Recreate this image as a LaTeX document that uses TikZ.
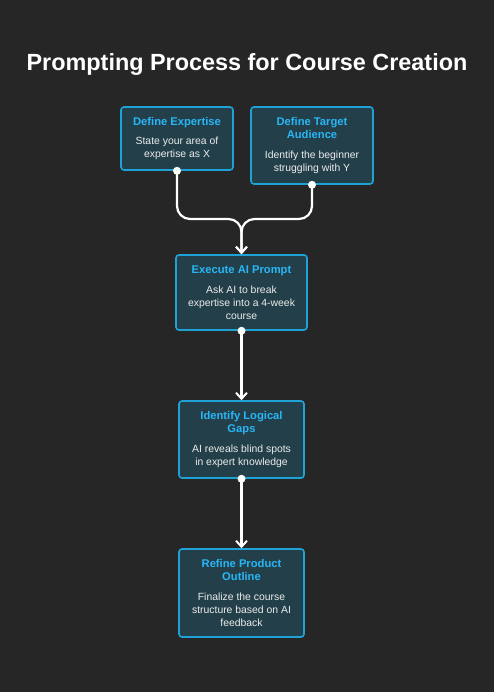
\documentclass[tikz,border=0pt]{standalone}
\usepackage{fontspec}
\setmainfont{Liberation Sans}
\usetikzlibrary{arrows.meta}
\definecolor{bg}{HTML}{262626}
\definecolor{boxfill}{HTML}{23404A}
\definecolor{boxline}{HTML}{1FA3D6}
\definecolor{ttl}{HTML}{29B6F6}
\definecolor{bodytxt}{HTML}{ECECEC}
\tikzset{
  stepbox/.style={draw=boxline, line width=1.6pt, fill=boxfill, rounded corners=3pt,
    align=center, inner sep=2pt, font=\fontsize{10.4}{13}\selectfont, text=bodytxt},
  conn/.style={draw=white, line width=2.2pt, rounded corners=13pt},
  arr/.style={conn, -{Straight Barb[length=6pt,width=11pt,line width=2pt]}},
  dotstart/.style={fill=white, circle, inner sep=0pt, minimum size=8pt},
}
\newcommand{\btitle}[1]{{\color{ttl}\bfseries\fontsize{11.2}{14}\selectfont #1}}
\begin{document}
\begin{tikzpicture}[x=1pt,y=-1pt]
\useasboundingbox (0,0) rectangle (494,692);
\fill[bg] (0,0) rectangle (494,692);
\node[text=white, font=\bfseries\fontsize{23.4}{26}\selectfont] (title) at (247,65) {Prompting Process for Course Creation};

\node[stepbox, minimum width=112pt, minimum height=63pt] (de) at (177,138.5)
  {\btitle{Define Expertise}\\[6.5pt]State your area of\\expertise as X};
\node[stepbox, minimum width=122pt, minimum height=77pt] (dt) at (312,145.5)
  {\btitle{Define Target}\\\btitle{Audience}\\[6.5pt]Identify the beginner\\struggling with Y};
\node[stepbox, minimum width=131pt, minimum height=75pt] (ex) at (241.5,292.5)
  {\btitle{Execute AI Prompt}\\[6.5pt]Ask AI to break\\expertise into a 4-week\\course};
\node[stepbox, minimum width=125pt, minimum height=77pt] (ig) at (241.5,439.5)
  {\btitle{Identify Logical}\\\btitle{Gaps}\\[6.5pt]AI reveals blind spots\\in expert knowledge};
\node[stepbox, minimum width=125pt, minimum height=88pt] (rp) at (241.5,593)
  {\btitle{Refine Product}\\\btitle{Outline}\\[6.5pt]Finalize the course\\structure based on AI\\feedback};

\coordinate (m) at (241.5,219);
\draw[arr] (de.south) |- (m) -- (ex.north);
\draw[arr] (dt.south) |- (m) -- (ex.north);
\draw[arr] (ex.south) -- (ig.north);
\draw[arr] (ig.south) -- (rp.north);

\node[dotstart] (d1) at (de.south) {};
\node[dotstart] (d2) at (dt.south) {};
\node[dotstart] (d3) at (ex.south) {};
\node[dotstart] (d4) at (ig.south) {};
\end{tikzpicture}
\end{document}
